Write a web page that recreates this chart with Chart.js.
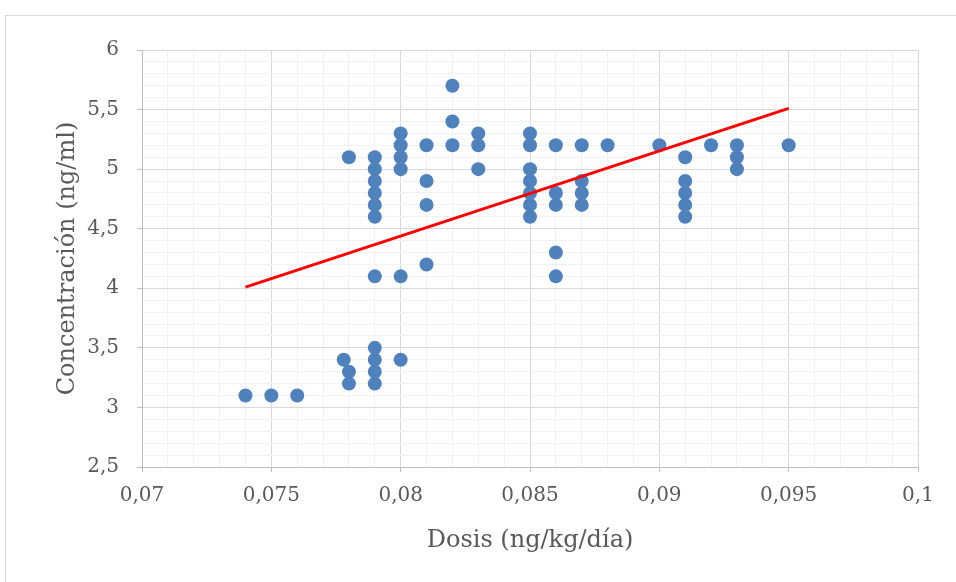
<!DOCTYPE html>
<html>
<head>
<meta charset="utf-8">
<script src="https://cdn.jsdelivr.net/npm/chart.js@4.4.0/dist/chart.umd.min.js"></script>
<style>
    html, body { margin: 0; padding: 0; background: #fff; }
    #wrap { position: relative; width: 956px; height: 582px; overflow: hidden; }
    #frame { position: absolute; left: 5px; top: 15px; width: 980px; height: 620px; border: 1px solid #D9D9D9; }
    canvas { position: absolute; left: 0; top: 0; }
</style>
</head>
<body>
<div id="wrap">
    <div id="frame"></div>
    <canvas id="myChart" width="956" height="582"></canvas>
</div>
<script>
// dosis (ng/kg/día) y concentración (ng/ml)
const doseX = [
    0.074, 0.075, 0.076, 0.0778,
    0.078, 0.078, 0.078,
    0.079, 0.079, 0.079, 0.079, 0.079, 0.079, 0.079, 0.079, 0.079, 0.079, 0.079,
    0.08, 0.08, 0.08, 0.08, 0.08, 0.08,
    0.081, 0.081, 0.081, 0.081,
    0.082, 0.082, 0.082,
    0.083, 0.083, 0.083,
    0.085, 0.085, 0.085, 0.085, 0.085, 0.085, 0.085,
    0.086, 0.086, 0.086, 0.086, 0.086,
    0.087, 0.087, 0.087, 0.087,
    0.088, 0.09,
    0.091, 0.091, 0.091, 0.091, 0.091,
    0.092,
    0.093, 0.093, 0.093,
    0.095
];
const concY = [
    3.1, 3.1, 3.1, 3.4,
    5.1, 3.3, 3.2,
    5.1, 5.0, 4.9, 4.8, 4.7, 4.6, 4.1, 3.5, 3.4, 3.3, 3.2,
    5.3, 5.2, 5.1, 5.0, 4.1, 3.4,
    5.2, 4.9, 4.7, 4.2,
    5.7, 5.4, 5.2,
    5.3, 5.2, 5.0,
    5.3, 5.2, 5.0, 4.9, 4.8, 4.7, 4.6,
    5.2, 4.8, 4.7, 4.3, 4.1,
    5.2, 4.9, 4.8, 4.7,
    5.2, 5.2,
    5.1, 4.9, 4.8, 4.7, 4.6,
    5.2,
    5.2, 5.1, 5.0,
    5.2
];

// línea de tendencia (extremos)
const trendX = [0.074, 0.095];
const trendY = [4.01, 5.51];

const xTickLabels = ['0,07', '0,075', '0,08', '0,085', '0,09', '0,095', '0,1'];
const yTickLabels = ['2,5', '3', '3,5', '4', '4,5', '5', '5,5', '6'];

const FONT = "'DejaVu Serif', 'Liberation Serif', serif";

function majorColor(ctx, major, minor) {
    return ctx.index % 5 === 0 ? major : minor;
}

const ctx = document.getElementById('myChart').getContext('2d');
new Chart(ctx, {
    type: 'scatter',
    data: {
        datasets: [
            {
                type: 'line',
                data: trendX.map((x, i) => ({ x: x, y: trendY[i] })),
                borderColor: '#FF0000',
                borderWidth: 3,
                pointRadius: 0,
                fill: false,
                tension: 0
            },
            {
                data: doseX.map((x, i) => ({ x: x, y: concY[i] })),
                backgroundColor: '#4F81BD',
                borderColor: '#4F81BD',
                borderWidth: 0,
                pointRadius: 7,
                pointHoverRadius: 7
            }
        ]
    },
    options: {
        responsive: false,
        animation: false,
        layout: { padding: { top: 50, right: 38, left: 0, bottom: 0 } },
        plugins: {
            legend: { display: false },
            tooltip: { enabled: false }
        },
        scales: {
            x: {
                type: 'linear',
                min: 0.07,
                max: 0.1,
                afterFit: scale => { scale.height = 115; },
                border: { color: '#BFBFBF', width: 1 },
                grid: {
                    color: c => majorColor(c, '#D9D9D9', '#F2F2F2'),
                    tickColor: c => majorColor(c, '#BFBFBF', 'rgba(0,0,0,0)'),
                    tickLength: 5
                },
                ticks: {
                    stepSize: 0.001,
                    maxTicksLimit: 100,
                    autoSkip: false,
                    maxRotation: 0,
                    padding: 12,
                    color: '#595959',
                    font: { family: FONT, size: 20 },
                    callback: (v, i) => (i % 5 === 0 ? xTickLabels[i / 5] : '')
                },
                title: {
                    display: true,
                    text: 'Dosis (ng/kg/día)',
                    color: '#595959',
                    font: { family: FONT, size: 24 },
                    padding: { top: 0, bottom: 27 }
                }
            },
            y: {
                type: 'linear',
                min: 2.5,
                max: 6,
                afterFit: scale => { scale.width = 142; },
                border: { color: '#BFBFBF', width: 1 },
                grid: {
                    color: c => majorColor(c, '#D9D9D9', '#F2F2F2'),
                    tickColor: c => majorColor(c, '#BFBFBF', 'rgba(0,0,0,0)'),
                    tickLength: 5
                },
                ticks: {
                    stepSize: 0.1,
                    maxTicksLimit: 100,
                    autoSkip: false,
                    padding: 18,
                    color: '#595959',
                    font: { family: FONT, size: 20 },
                    callback: (v, i) => (i % 5 === 0 ? yTickLabels[i / 5] : '')
                },
                title: {
                    display: true,
                    text: 'Concentración (ng/ml)',
                    color: '#595959',
                    font: { family: FONT, size: 24 },
                    padding: { top: 53, bottom: 0 }
                }
            }
        }
    }
});
</script>
</body>
</html>
